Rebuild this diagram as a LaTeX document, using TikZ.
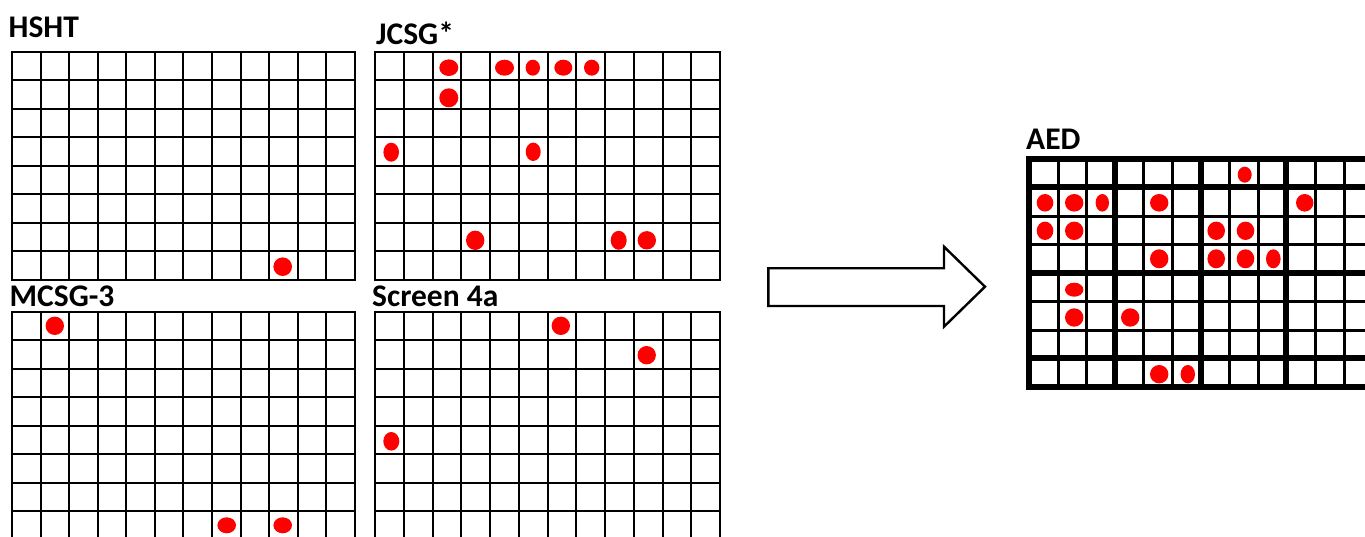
\documentclass[tikz,border=0pt]{standalone}
\usepackage{fontspec}
\newfontfamily\lblfont{Carlito}
\tikzset{
  gridline/.style={line width=2pt, black, line cap=rect},
  aedthin/.style={line width=3pt, black, line cap=rect},
  aedthick/.style={line width=6pt, black, line cap=rect},
  dot/.style={fill=red, draw=none},
  lbl/.style={anchor=base west, inner sep=0pt, font=\lblfont\bfseries\fontsize{31.5}{36}\selectfont},
  bigarrow/.style={draw=black, line width=2.4pt, fill=white, line join=miter}
}
\newcommand\wellgrid[6]{%
  \foreach \i in {0,...,#5} \draw[gridline] ({round(#1+\i*#3)},{round(#2)}) -- ({round(#1+\i*#3)},{round(#2+#6*#4)});
  \foreach \j in {0,...,#6} \draw[gridline] ({round(#1)},{round(#2+\j*#4)}) -- ({round(#1+#5*#3)},{round(#2+\j*#4)});
}
\newcommand\rdot[4]{\fill[dot] (#1,#2) ellipse [x radius=#3, y radius=#4];}
\begin{document}
\begin{tikzpicture}[x=1pt,y=-1pt]
\useasboundingbox (0,0) rectangle (1365,537);
\clip (0,0) rectangle (1365,537);
\fill[white] (0,0) rectangle (1365,537);

% labels
\node[lbl] (hsht) at (8.5,37.3) {HSHT};
\node[lbl] (jcsg) at (376,45) {JCSG*};
\node[lbl] (mcsg) at (9.5,306.7) {MCSG-3};
\node[lbl] (scr) at (372,306.7) {Screen 4a};
\node[lbl] (aed) at (1026,150) {AED};

% grids
\wellgrid{12}{52}{28.58}{28.45}{12}{8}
\wellgrid{375}{52}{28.75}{28.45}{12}{8}
\wellgrid{12}{312}{28.58}{28.45}{12}{8}
\wellgrid{375}{312}{28.75}{28.45}{12}{8}

% AED plate
\foreach \i in {0,...,12} \draw[aedthin] ({round(1029+\i*28.6)+0.5},159) -- ({round(1029+\i*28.6)+0.5},387);
\foreach \j in {0,...,8} \draw[aedthin] (1029,{round(159+\j*28.45)+0.5}) -- (1372,{round(159+\j*28.45)+0.5});
\foreach \i in {0,3,6,9,12} \draw[aedthick] ({round(1029+\i*28.6)},159) -- ({round(1029+\i*28.6)},387);
\foreach \j in {0,1,4,7,8} \draw[aedthick] (1029,{round(159+\j*28.45)}) -- (1372,{round(159+\j*28.45)});

% block arrow
\draw[bigarrow] (768.3,268.3) -- (944,268.3) -- (944,246.7) -- (985,286.7) -- (944,326.7) -- (944,306) -- (768.3,306) -- cycle;

% HSHT dots
\rdot{282.7}{266.7}{9.3}{9.3}
% JCSG dots
\rdot{448.8}{67.7}{9.5}{8.3}
\rdot{504.5}{67.7}{9.5}{8}
\rdot{532.8}{67.7}{7.2}{8}
\rdot{563.3}{67.7}{9}{8}
\rdot{591.7}{67.7}{7.7}{8}
\rdot{448.8}{97.8}{9.5}{9.5}
\rdot{391.2}{152.2}{7.8}{9.5}
\rdot{533.2}{151.8}{7.5}{9.2}
\rdot{475.2}{240.3}{9.2}{9.7}
\rdot{618.7}{240.3}{8}{9.5}
\rdot{646.8}{240.3}{9.2}{9.2}
% MCSG dots
\rdot{54.8}{325.8}{9.2}{9.2}
\rdot{226.7}{525.3}{9.3}{8}
\rdot{282.7}{525.3}{9.3}{8}
% Screen 4a dots
\rdot{560.8}{325.8}{9.2}{9.2}
\rdot{646.7}{355.2}{9.2}{9.2}
\rdot{391.3}{441.3}{8}{9.3}
% AED dots
\rdot{1244.7}{174.7}{7}{8}
\rdot{1045}{202.8}{8.3}{8.8}
\rdot{1074.2}{202.8}{9.2}{8.8}
\rdot{1102.3}{202.8}{6.7}{8.8}
\rdot{1159.2}{202.8}{9.2}{8.8}
\rdot{1304.7}{202.8}{8.7}{8.8}
\rdot{1045}{230.8}{8.3}{9.2}
\rdot{1074.2}{230.8}{9.2}{9.2}
\rdot{1216.2}{230.8}{8.8}{9.2}
\rdot{1245.5}{230.8}{8.8}{9.2}
\rdot{1159.2}{258.8}{9.2}{9.5}
\rdot{1216.2}{258.8}{8.8}{9.5}
\rdot{1245.5}{258.8}{8.8}{9.5}
\rdot{1273.3}{258.8}{7.3}{9.5}
\rdot{1074.2}{289.7}{9.2}{7}
\rdot{1074.2}{317.5}{9.2}{9.2}
\rdot{1130.2}{317.5}{9.2}{9.2}
\rdot{1159.2}{374.2}{9.2}{9.2}
\rdot{1187.8}{374.2}{7.2}{9.2}
\end{tikzpicture}
\end{document}
